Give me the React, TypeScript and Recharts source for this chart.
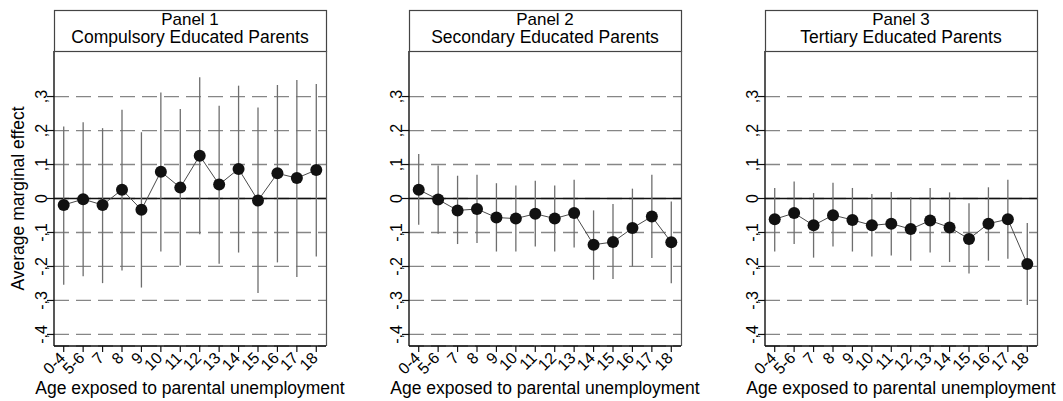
import React from 'react';
import { LineChart, Line, XAxis, YAxis, CartesianGrid, ReferenceLine, ErrorBar } from 'recharts';

const FONT = '"Liberation Sans", Arial, Helvetica, sans-serif';

const ageLabels = ['0-4', '5-6', '7', '8', '9', '10', '11', '12', '13', '14', '15', '16', '17', '18'];
const panelTitles = ['Panel 1', 'Panel 2', 'Panel 3'];
const panelSubtitles = ['Compulsory Educated Parents', 'Secondary Educated Parents', 'Tertiary Educated Parents'];
const yTicks = [-0.4, -0.3, -0.2, -0.1, 0, 0.1, 0.2, 0.3];
const yTitle = 'Average marginal effect';
const xTitle = 'Age exposed to parental unemployment';

const p1Est = [-0.019, -0.002, -0.019, 0.026, -0.033, 0.079, 0.032, 0.126, 0.041, 0.087, -0.006, 0.074, 0.060, 0.084];
const p1Hi = [0.212, 0.224, 0.207, 0.261, 0.195, 0.312, 0.263, 0.357, 0.273, 0.332, 0.268, 0.334, 0.349, 0.337];
const p1Lo = [-0.254, -0.229, -0.249, -0.212, -0.262, -0.156, -0.197, -0.105, -0.192, -0.159, -0.278, -0.188, -0.231, -0.171];

const p2Est = [0.026, -0.003, -0.035, -0.031, -0.056, -0.059, -0.045, -0.059, -0.043, -0.136, -0.128, -0.087, -0.053, -0.129];
const p2Hi = [0.131, 0.097, 0.067, 0.070, 0.045, 0.038, 0.052, 0.038, 0.055, -0.035, -0.016, 0.029, 0.070, -0.009];
const p2Lo = [-0.077, -0.104, -0.134, -0.131, -0.156, -0.156, -0.141, -0.156, -0.144, -0.239, -0.237, -0.200, -0.175, -0.249];

const p3Est = [-0.061, -0.043, -0.079, -0.049, -0.063, -0.079, -0.074, -0.090, -0.065, -0.085, -0.119, -0.074, -0.061, -0.193];
const p3Hi = [0.031, 0.050, 0.016, 0.046, 0.031, 0.013, 0.019, 0.004, 0.031, 0.018, -0.014, 0.033, 0.055, -0.072];
const p3Lo = [-0.156, -0.134, -0.174, -0.141, -0.156, -0.171, -0.168, -0.183, -0.159, -0.187, -0.221, -0.183, -0.177, -0.313];

const panels = [
  { est: p1Est, lo: p1Lo, hi: p1Hi },
  { est: p2Est, lo: p2Lo, hi: p2Hi },
  { est: p3Est, lo: p3Lo, hi: p3Hi },
];

const CHART_LEFTS = [0, 355, 711];
const AXIS_W = 54;
const PLOT_W = 272;
const CHART_W = 352;
const CHART_H = 401;
const TOP = 51;
const PLOT_BOTTOM = 346;
const HEADER_TOP = 10;
const TICK_FONT = 16;

const fmtY = (v: number) => {
  if (Math.abs(v) < 1e-9) return '0';
  return (v < 0 ? '-' : '') + ',' + Math.round(Math.abs(v) * 10);
};

const tickStyle = { fontSize: TICK_FONT, fontFamily: FONT, fill: '#000' };

const YTick = (props: any) => {
  const { y, payload } = props;
  const tx = 46.7;
  return (
    <text x={tx} y={y} transform={`rotate(-90, ${tx}, ${y})`} textAnchor="middle" style={tickStyle}>
      {fmtY(payload.value)}
    </text>
  );
};

const XTick = (props: any) => {
  const { x, payload } = props;
  const ax = x + 2.5;
  const ay = PLOT_BOTTOM + 13;
  return (
    <text x={ax} y={ay} transform={`rotate(-45, ${ax}, ${ay})`} textAnchor="end" style={tickStyle}>
      {ageLabels[payload.value]}
    </text>
  );
};

function Panel({ idx }: { idx: number }) {
  const p = panels[idx];
  const data = ageLabels.map((a, i) => ({
    x: i,
    age: a,
    est: p.est[i],
    err: [p.est[i] - p.lo[i], p.hi[i] - p.est[i]],
  }));
  return (
    <div style={{ position: 'absolute', left: CHART_LEFTS[idx], top: 0 }}>
      <LineChart
        width={CHART_W}
        height={CHART_H}
        data={data}
        margin={{ top: TOP, right: CHART_W - AXIS_W - PLOT_W, bottom: 0, left: 0 }}
      >
        <CartesianGrid vertical={false} stroke="#868686" strokeWidth={1.3} strokeDasharray="15 7" />
        <XAxis
          dataKey="x"
          type="number"
          domain={[-0.5, 13.5]}
          ticks={ageLabels.map((_, i) => i)}
          interval={0}
          height={CHART_H - PLOT_BOTTOM}
          tick={(props: any) => <XTick {...props} />}
          tickSize={6}
          tickMargin={0}
          axisLine={{ stroke: '#111', strokeWidth: 1.4 }}
          tickLine={{ stroke: '#111', strokeWidth: 1.2 }}
          allowDataOverflow
        />
        <YAxis
          type="number"
          domain={[-0.434, 0.434]}
          ticks={yTicks}
          interval={0}
          width={AXIS_W}
          tick={(props: any) => <YTick {...props} />}
          tickSize={7}
          tickMargin={0}
          axisLine={{ stroke: '#111', strokeWidth: 1.4 }}
          tickLine={{ stroke: '#111', strokeWidth: 1.2 }}
          allowDataOverflow
        />
        <ReferenceLine y={0} stroke="#111" strokeWidth={1.5} />
        <Line
          dataKey="est"
          stroke="#4a4a4a"
          strokeWidth={1}
          isAnimationActive={false}
          dot={{ r: 6, fill: '#111', stroke: '#111', strokeWidth: 0 }}
          activeDot={false}
        >
          <ErrorBar dataKey="err" direction="y" width={0} stroke="#6e6e6e" strokeWidth={1.3} isAnimationActive={false} />
        </Line>
      </LineChart>
    </div>
  );
}

export default function App() {
  return (
    <div style={{ position: 'absolute', left: 0, top: 0, width: 1063, height: 401, background: '#fff', fontFamily: FONT }}>
      {[0, 1, 2].map((i) => (
        <Panel key={i} idx={i} />
      ))}
      <svg width={1063} height={401} style={{ position: 'absolute', left: 0, top: 0, pointerEvents: 'none' }}>
        {[0, 1, 2].map((i) => {
          const left = CHART_LEFTS[i] + AXIS_W;
          const cx = left + PLOT_W / 2;
          return (
            <g key={i}>
              <rect x={left + 0.5} y={HEADER_TOP + 0.5} width={PLOT_W} height={TOP - HEADER_TOP} fill="#fff" stroke="#444" strokeWidth={1.2} />
              <line x1={left + PLOT_W + 0.5} y1={TOP} x2={left + PLOT_W + 0.5} y2={PLOT_BOTTOM} stroke="#555" strokeWidth={1.2} />
              <text x={cx} y={25} textAnchor="middle" style={{ fontSize: 17, fontFamily: FONT, fill: '#000' }}>{panelTitles[i]}</text>
              <text x={cx} y={43} textAnchor="middle" style={{ fontSize: 17.5, fontFamily: FONT, fill: '#000' }}>{panelSubtitles[i]}</text>
              <text x={cx} y={394.3} textAnchor="middle" style={{ fontSize: 17.5, fontFamily: FONT, fill: '#000' }}>{xTitle}</text>
            </g>
          );
        })}
        <text x={23.5} y={198.5} transform="rotate(-90, 23.5, 198.5)" textAnchor="middle" style={{ fontSize: 17.5, fontFamily: FONT, fill: '#000' }}>{yTitle}</text>
      </svg>
    </div>
  );
}
